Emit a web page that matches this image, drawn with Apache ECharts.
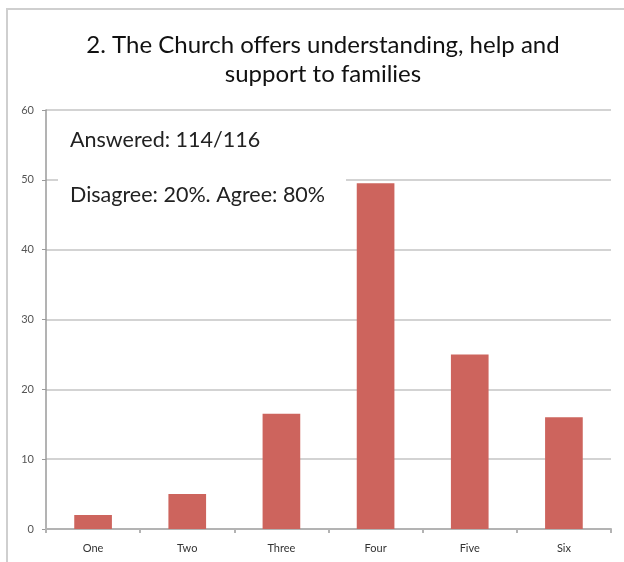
<!DOCTYPE html>
<html>
<head>
<meta charset="utf-8">
<script src="https://cdn.jsdelivr.net/npm/echarts@6/dist/echarts.min.js"></script>
<style>
  html, body { margin: 0; padding: 0; background: #fff; }
  #chart { width: 624px; height: 562px; }
</style>
</head>
<body>
<div id="chart"></div>
<script>
// values
var categories = ["One", "Two", "Three", "Four", "Five", "Six"];
var counts = [2, 5, 16.5, 49.5, 25, 16];
var notes = ["Answered: 114/116", "Disagree: 20%. Agree: 80%"];

var chart = echarts.init(document.getElementById("chart"));
var font = "Lato, 'Open Sans', sans-serif";

var option = {
  animation: false,
  title: {
    text: "2. The Church offers understanding, help and\nsupport to families",
    left: 318,
    textAlign: "center",
    top: 26,
    textStyle: {
      fontFamily: font,
      fontWeight: "normal",
      fontSize: 24,
      lineHeight: 29,
      color: "#111"
    }
  },
  grid: {
    left: 46,
    right: 13,
    top: 110,
    bottom: 33
  },
  xAxis: {
    type: "category",
    data: categories,
    axisLine: { lineStyle: { color: "#b3b3b3", width: 2 } },
    axisTick: { show: true, length: 4, lineStyle: { color: "#b3b3b3", width: 2 } },
    axisLabel: { fontFamily: font, fontSize: 11, color: "#333", margin: 14 }
  },
  yAxis: {
    type: "value",
    min: 0,
    max: 60,
    interval: 10,
    axisLine: { show: true, lineStyle: { color: "#9a9a9a", width: 1.5 } },
    axisTick: { show: true, length: 4, lineStyle: { color: "#9a9a9a" } },
    axisLabel: { fontFamily: font, fontSize: 11, color: "#555", margin: 12 },
    splitLine: { lineStyle: { color: "#d3d3d3", width: 2 } }
  },
  series: [
    {
      type: "bar",
      data: counts,
      barWidth: "40%",
      itemStyle: { color: "#cd645d" }
    }
  ],
  graphic: [
    // outer frame
    {
      type: "rect",
      shape: { x: 7, y: 9, width: 640, height: 600 },
      style: { fill: null, stroke: "#cfcfcf", lineWidth: 2 },
      silent: true,
      z: 0
    },
    {
      type: "rect",
      shape: { x: 60, y: 124, width: 210, height: 32 },
      style: { fill: "#fff" },
      z: 10
    },
    {
      type: "text",
      x: 70,
      y: 140,
      style: {
        text: notes[0],
        fontFamily: font,
        fontSize: 21.5,
        fill: "#222",
        textVerticalAlign: "middle"
      },
      z: 11
    },
    {
      type: "rect",
      shape: { x: 58, y: 176, width: 288, height: 36 },
      style: { fill: "#fff" },
      z: 10
    },
    {
      type: "text",
      x: 70,
      y: 195,
      style: {
        text: notes[1],
        fontFamily: font,
        fontSize: 21.5,
        fill: "#222",
        textVerticalAlign: "middle"
      },
      z: 11
    }
  ]
};

chart.setOption(option);
</script>
</body>
</html>
